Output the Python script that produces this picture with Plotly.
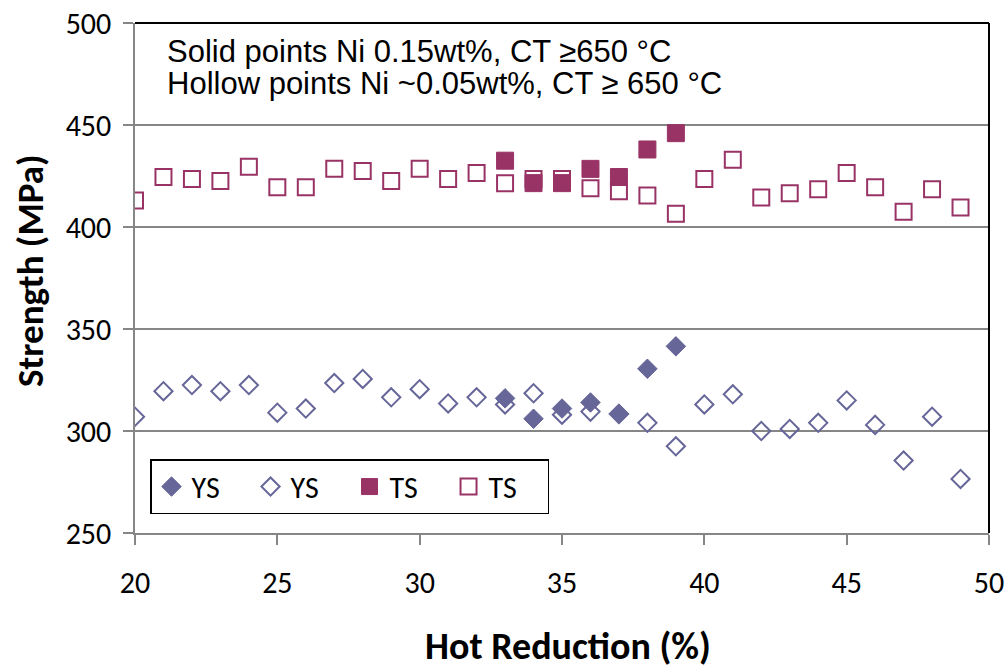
import plotly.graph_objects as go

# Hollow points (Ni ~0.05wt%)
x_hollow = list(range(20, 50))
ys_hollow = [307, 319.5, 322.5, 319.5, 322.5, 309, 311, 323.5, 325.5, 316.5,
             320.5, 313.5, 316.5, 313, 318.5, 308, 309.5, 308.3, 304, 292.5,
             313, 318, 300, 301, 304, 315, 303, 285.5, 307, 276.5]
ts_hollow = [413, 424.5, 423.5, 422.5, 429.5, 419.5, 419.5, 428.5, 427.5, 422.5,
             428.5, 423.5, 426.5, 421.5, 423.5, 423.5, 419, 417.5, 415.5, 406.5,
             423.5, 433, 414.5, 416.5, 418.5, 426.5, 419.5, 407.5, 418.5, 409.5]

# Solid points (Ni 0.15wt%)
x_solid = [33, 34, 35, 36, 37, 38, 39]
ys_solid = [316, 306, 311, 314, 308.5, 330.5, 341.5]
ts_solid = [432.5, 421.5, 421.5, 428.5, 424.5, 438, 446]

YS_COLOR = "#666699"
TS_COLOR = "#993366"
AXIS_GRAY = "#868686"
FAM = "Carlito, Lato, sans-serif"
TICK_FONT = dict(family=FAM, size=30, color="black")

W, H = 1004, 670
L, T, PW, PH = 135, 23, 854, 510

fig = go.Figure()

fig.add_trace(go.Scatter(x=x_hollow, y=ys_hollow, mode="markers", name="YS",
                         legendrank=2,
                         marker=dict(symbol="diamond-open", size=14, color=YS_COLOR,
                                     line=dict(width=2, color=YS_COLOR))))
fig.add_trace(go.Scatter(x=x_hollow, y=ts_hollow, mode="markers", name="TS",
                         legendrank=4,
                         marker=dict(symbol="square", size=16, color="white",
                                     line=dict(width=2, color=TS_COLOR))))
fig.add_trace(go.Scatter(x=x_solid, y=ys_solid, mode="markers", name="YS",
                         legendrank=1,
                         marker=dict(symbol="diamond", size=15, color=YS_COLOR,
                                     line=dict(width=1, color=YS_COLOR))))
fig.add_trace(go.Scatter(x=x_solid, y=ts_solid, mode="markers", name="TS",
                         legendrank=3,
                         marker=dict(symbol="square", size=17, color=TS_COLOR,
                                     line=dict(width=1, color=TS_COLOR))))

fig.update_layout(
    width=W, height=H,
    margin=dict(l=L, r=W - L - PW, t=T, b=H - T - PH),
    paper_bgcolor="white", plot_bgcolor="white",
    showlegend=True,
    legend=dict(orientation="h", x=0.0176, y=0.145, xanchor="left", yanchor="top",
                bordercolor="black", borderwidth=1.5, bgcolor="white",
                font=dict(family=FAM, size=30, color="black"),
                entrywidth=54, entrywidthmode="pixels", itemwidth=30,
                traceorder="normal"),
    xaxis=dict(range=[20, 50], tick0=20, dtick=5, showgrid=False, zeroline=False,
               automargin=False, ticklabeloverflow="allow",
               showline=True, linecolor=AXIS_GRAY, linewidth=1.5,
               ticks="outside", ticklen=10, tickcolor=AXIS_GRAY, tickwidth=1.5,
               tickfont=TICK_FONT, ticklabelstandoff=12),
    yaxis=dict(range=[250, 500], tick0=250, dtick=50, showgrid=True, gridcolor=AXIS_GRAY,
               gridwidth=1.5, zeroline=False, automargin=False, ticklabeloverflow="allow",
               showline=True, linecolor=AXIS_GRAY, linewidth=1.5,
               ticks="outside", ticklen=10, tickcolor=AXIS_GRAY, tickwidth=1.5,
               tickfont=TICK_FONT, ticklabelstandoff=6),
    shapes=[
        dict(type="line", xref="paper", yref="paper", x0=0, x1=1, y0=1, y1=1,
             line=dict(color="black", width=2)),
        dict(type="line", xref="paper", yref="paper", x0=1, x1=1, y0=0, y1=1,
             line=dict(color="black", width=2)),
    ],
    annotations=[
        dict(text="Solid points Ni 0.15wt%, CT \u2265650 \u00b0C", xref="paper", yref="paper",
             x=(165 - 135) / PW, y=(533 - 51) / PH, xanchor="left", yanchor="middle",
             showarrow=False,
             font=dict(family="Liberation Sans, Arial, sans-serif", size=31, color="black")),
        dict(text="Hollow points Ni ~0.05wt%, CT \u2265 650 \u00b0C", xref="paper", yref="paper",
             x=(165 - 135) / PW, y=(533 - 83) / PH, xanchor="left", yanchor="middle",
             showarrow=False,
             font=dict(family="Liberation Sans, Arial, sans-serif", size=31, color="black")),
        dict(text="<b>Hot Reduction (%)</b>", xref="paper", yref="paper",
             x=(568 - 135) / PW, y=-(646 - 533) / PH, xanchor="center", yanchor="middle",
             showarrow=False, font=dict(family=FAM, size=38, color="black")),
        dict(text="<b>Strength (MPa)</b>", xref="paper", yref="paper", textangle=-90,
             x=(30 - 135) / PW, y=(533 - 271) / PH, xanchor="center", yanchor="middle",
             showarrow=False, font=dict(family=FAM, size=37, color="black")),
    ],
)

fig.write_html("out.html", config={"displayModeBar": False},
               post_script="document.body.style.margin='0px';document.body.style.overflow='hidden';")
